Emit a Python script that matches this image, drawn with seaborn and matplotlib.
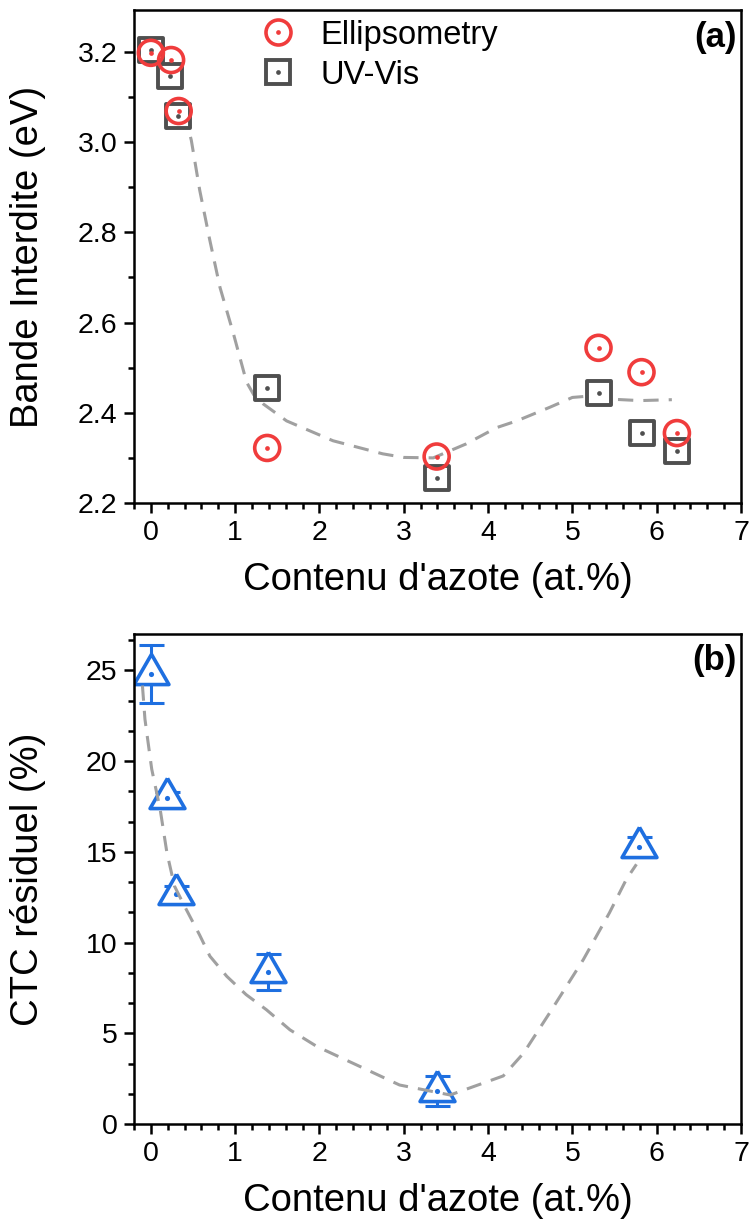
import numpy as np
import pandas as pd
import matplotlib
matplotlib.use("Agg")
import matplotlib.pyplot as plt
from matplotlib.lines import Line2D
from matplotlib.ticker import AutoMinorLocator, MultipleLocator, FormatStrFormatter
import seaborn as sns

# ---- data -------------------------------------------------------------
# (a) band gap vs nitrogen content
ell_x = [0.0, 0.24, 0.33, 1.38, 3.39, 5.31, 5.82, 6.24]
ell_y = [3.198, 3.182, 3.069, 2.322, 2.303, 2.544, 2.490, 2.355]
uv_x = [0.0, 0.23, 0.32, 1.38, 3.39, 5.31, 5.82, 6.24]
uv_y = [3.205, 3.147, 3.058, 2.454, 2.255, 2.443, 2.355, 2.315]
# guide-to-the-eye trend for (a)
trend_a_x = [0.33, 0.44, 0.48, 0.58, 0.70, 0.82, 0.98, 1.135, 1.22, 1.33, 1.61,
             2.16, 2.75, 3.0, 3.35, 3.74, 4.1, 4.34, 4.73, 5.0, 5.33, 5.48, 5.8, 6.18]
trend_a_y = [3.06, 3.034, 3.004, 2.893, 2.782, 2.678, 2.575, 2.468, 2.440, 2.42, 2.382,
             2.338, 2.309, 2.301, 2.300, 2.331, 2.367, 2.382, 2.412, 2.434, 2.439,
             2.430, 2.427, 2.429]

# (b) residual CTC vs nitrogen content
ctc_x = [0.0, 0.19, 0.30, 1.39, 3.39, 5.79]
ctc_y = [24.8, 17.94, 12.65, 8.36, 1.82, 15.29]
ctc_err = [1.6, 0.35, 0.45, 1.0, 0.8, 0.5]
# guide-to-the-eye trend for (b)
trend_b_x = [-0.1, -0.07, 0.01, 0.11, 0.19, 0.28, 0.40, 0.58, 0.70, 0.90, 1.13,
             1.37, 1.65, 1.97, 2.48, 2.95, 3.55, 4.18, 4.42, 4.73, 5.13, 5.44,
             5.64, 5.76]
trend_b_y = [24.16, 22.3, 19.56, 17.35, 14.96, 13.11, 12.0, 10.4, 9.25, 8.14,
             7.13, 6.30, 5.19, 4.27, 3.17, 2.15, 1.60, 2.65, 3.9, 6.12, 9.06,
             11.64, 13.48, 14.31]

xlabel = "Contenu d'azote (at.%)"
ylabel_a = "Bande Interdite (eV)"
ylabel_b = "CTC résiduel (%)"

# ---- style ------------------------------------------------------------
sns.set_theme(style="ticks")
plt.rcParams["font.family"] = ["Liberation Sans", "DejaVu Sans"]
plt.rcParams.update({
    "axes.linewidth": 1.8,
    "text.color": "black",
    "axes.labelcolor": "black",
    "axes.edgecolor": "black",
    "xtick.color": "black",
    "ytick.color": "black",
    "xtick.labelcolor": "black",
    "ytick.labelcolor": "black",
})

RED = "#F03C3C"
GREY = "#4F4F4F"
BLUE = "#1E6FE0"
TREND = "#A0A0A0"
DASH = (0, (5, 3.3))
DOT = 3.4

TICK_FS = 20.5
LABEL_FS = 27.5

# triangle centred on its centroid
tri = [(0, 1.0), (-0.866, -0.5), (0.866, -0.5), (0, 1.0)]

fig = plt.figure(figsize=(7.49, 12.31), dpi=100)
ax_a = fig.add_axes([0.1789, 0.5914, 0.8104, 0.4005])
ax_b = fig.add_axes([0.1789, 0.0869, 0.8104, 0.3981])


def style_axis(ax):
    ax.set_xlim(-0.2, 7)
    ax.xaxis.set_major_locator(MultipleLocator(1))
    ax.xaxis.set_minor_locator(AutoMinorLocator(5))
    ax.tick_params(which="major", direction="out", length=7, width=1.8,
                   labelsize=TICK_FS, color="black", labelcolor="black",
                   top=False, right=False, pad=5)
    ax.tick_params(which="minor", direction="out", length=4, width=1.8,
                   color="black", top=False, right=False)
    for sp in ax.spines.values():
        sp.set_visible(True)
        sp.set_color("black")
        sp.set_linewidth(1.8)
    ax.set_xlabel(xlabel, fontsize=LABEL_FS, labelpad=12)


# ---- panel (a) ---------------------------------------------------------
sns.lineplot(x=trend_a_x, y=trend_a_y, ax=ax_a, color=TREND, lw=2.2,
             sort=False, zorder=1)
ax_a.lines[-1].set_linestyle(DASH)
sns.scatterplot(x=uv_x, y=uv_y, ax=ax_a, marker="s", s=17 ** 2,
                facecolor="white", edgecolor=GREY, linewidth=2.8, zorder=2)
sns.scatterplot(x=uv_x, y=uv_y, ax=ax_a, marker="o", s=DOT ** 2,
                color=GREY, edgecolor=GREY, linewidth=0, zorder=2.5)
sns.scatterplot(x=ell_x, y=ell_y, ax=ax_a, marker="o", s=18 ** 2,
                facecolor="none", edgecolor=RED, linewidth=2.6, zorder=3)
sns.scatterplot(x=ell_x, y=ell_y, ax=ax_a, marker="o", s=DOT ** 2,
                color=RED, edgecolor=RED, linewidth=0, zorder=3.5)

ax_a.set_ylim(2.2, 3.293)
ax_a.yaxis.set_major_locator(MultipleLocator(0.2))
ax_a.yaxis.set_minor_locator(AutoMinorLocator(2))
ax_a.yaxis.set_major_formatter(FormatStrFormatter("%.1f"))
style_axis(ax_a)
ax_a.set_ylabel(ylabel_a, fontsize=LABEL_FS)
ax_a.yaxis.set_label_coords(-0.145, 0.5)

h_ell = (Line2D([], [], ls="none", marker="o", ms=18, mfc="none", mec=RED, mew=2.6),
         Line2D([], [], ls="none", marker="o", ms=DOT, mfc=RED, mec=RED, mew=0))
h_uv = (Line2D([], [], ls="none", marker="s", ms=17, mfc="white", mec=GREY, mew=2.8),
        Line2D([], [], ls="none", marker="o", ms=DOT, mfc=GREY, mec=GREY, mew=0))
ax_a.legend([h_ell, h_uv], ["Ellipsometry", "UV-Vis"], loc="upper left",
            bbox_to_anchor=(0.165, 1.027), frameon=False, fontsize=23.5,
            handlelength=1.3, handletextpad=0.65, labelspacing=0.28,
            borderaxespad=0.3)
ax_a.text(0.993, 0.945, "(a)", transform=ax_a.transAxes, ha="right",
          va="center", fontsize=25, fontweight="bold")

# ---- panel (b) ---------------------------------------------------------
ax_b.errorbar(ctc_x, ctc_y, yerr=ctc_err, fmt="none", ecolor=BLUE,
              elinewidth=2.2, capsize=9, capthick=2.2, zorder=1)
sns.scatterplot(x=ctc_x, y=ctc_y, ax=ax_b, marker=tri, s=29 ** 2,
                facecolor="white", edgecolor=BLUE, linewidth=2.6, zorder=2)
sns.scatterplot(x=ctc_x, y=ctc_y, ax=ax_b, marker="o", s=(DOT + 0.3) ** 2,
                color=BLUE, edgecolor=BLUE, linewidth=0, zorder=2.5)
sns.lineplot(x=trend_b_x, y=trend_b_y, ax=ax_b, color=TREND, lw=2.2,
             sort=False, zorder=3)
ax_b.lines[-1].set_linestyle(DASH)

ax_b.set_ylim(0, 27)
ax_b.yaxis.set_major_locator(MultipleLocator(5))
ax_b.yaxis.set_minor_locator(AutoMinorLocator(3))
style_axis(ax_b)
ax_b.set_ylabel(ylabel_b, fontsize=LABEL_FS)
ax_b.yaxis.set_label_coords(-0.145, 0.5)
ax_b.text(0.993, 0.945, "(b)", transform=ax_b.transAxes, ha="right",
          va="center", fontsize=25, fontweight="bold")

fig.savefig("out.png", dpi=100)
